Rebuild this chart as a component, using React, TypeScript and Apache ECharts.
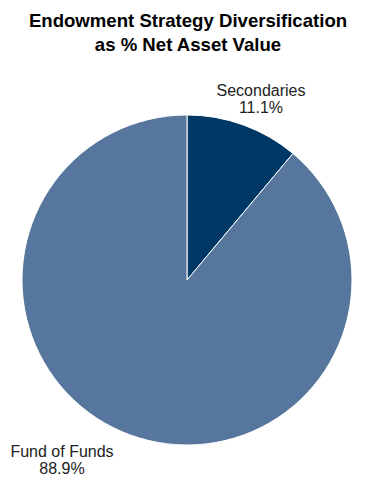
import React, { useEffect, useRef } from "react";
import * as echarts from "echarts";

const categories = ["Secondaries", "Fund of Funds"];
const values = [11.1, 88.9];
const colors = ["#003865", "#56769E"];
const labelPositions: [number, number][] = [
  [261, 99],
  [62, 460],
];

export default function App() {
  const ref = useRef<HTMLDivElement>(null);
  useEffect(() => {
    const chart = echarts.init(ref.current!, null, { renderer: "svg" });
    chart.setOption({
      animation: false,
      backgroundColor: "#ffffff",
      title: {
        text: "Endowment Strategy Diversification\nas % Net Asset Value",
        left: "center",
        top: 3,
        textStyle: {
          fontFamily: "Liberation Sans, Arial, sans-serif",
          fontWeight: "bold",
          fontSize: 18.6,
          lineHeight: 24,
          color: "#000000",
        },
      },
      series: [
        {
          type: "pie",
          center: [187, 280],
          radius: 165,
          startAngle: 90,
          clockwise: true,
          data: categories.map((c, i) => ({
            name: c,
            value: values[i],
            itemStyle: { color: colors[i] },
          })),
          itemStyle: { borderColor: "#ffffff", borderWidth: 1 },
          label: {
            show: true,
            position: "outside",
            formatter: (p: any) => `${p.name}\n${p.value.toFixed(1)}%`,
            fontFamily: "Liberation Sans, Arial, sans-serif",
            fontSize: 16,
            lineHeight: 17,
            color: "#222222",
            align: "center",
            overflow: "none",
            width: 200,
          },
          labelLine: { show: false },
          labelLayout: (params: any) => ({
            x: labelPositions[params.dataIndex][0],
            y: labelPositions[params.dataIndex][1],
            align: "center",
            verticalAlign: "middle",
          }),
          emphasis: { disabled: true },
        },
      ],
    });
    return () => chart.dispose();
  }, []);
  return (
    <div
      ref={ref}
      style={{ position: "absolute", left: 0, top: 0, width: 376, height: 482 }}
    />
  );
}
